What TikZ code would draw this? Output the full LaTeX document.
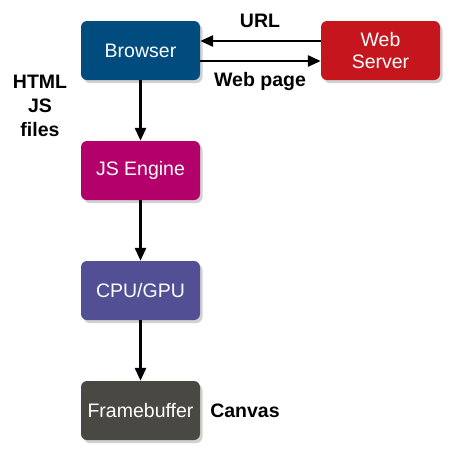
\documentclass[tikz,border=0pt]{standalone}
\usepackage{fontspec}
\setmainfont{Liberation Sans}
\usetikzlibrary{arrows.meta,shadows}
\definecolor{cBrowser}{HTML}{004C7F}
\definecolor{cServer}{HTML}{C4161C}
\definecolor{cJS}{HTML}{B3006B}
\definecolor{cCPU}{HTML}{524F94}
\definecolor{cFrame}{HTML}{4A4843}
\tikzset{
  box/.style={rounded corners=6pt, minimum width=119pt, minimum height=59pt, inner sep=0pt,
    text=white, font=\fontsize{19.5}{22}\selectfont, align=center,
    drop shadow={shadow xshift=2.5pt, shadow yshift=-3pt, opacity=0.18, fill=black}},
  lbl/.style={font=\bfseries\fontsize{19.5}{24}\selectfont, align=center, inner sep=0pt},
  conn/.style={line width=2.8pt, -{Triangle[length=13pt,width=11pt]}}
}
\begin{document}
\begin{tikzpicture}[x=1pt,y=-1pt]
\useasboundingbox (0,0) rectangle (451,451);
\node[box, fill=cBrowser] (browser) at (140.5,50.5) {Browser};
\node[box, fill=cServer] (server) at (380.5,50.5) {Web\\Server};
\node[box, fill=cJS] (js) at (140.5,170.5) {JS Engine};
\node[box, fill=cCPU] (cpu) at (140.5,290.5) {CPU/GPU};
\node[box, fill=cFrame] (frame) at (140.5,410.5) {Framebuffer};
\draw[conn] (server.west |- 0,41) -- (browser.east |- 0,41);
\draw[conn] (browser.east |- 0,61) -- (server.west |- 0,61);
\draw[conn] (browser) -- (js);
\draw[conn] (js) -- (cpu);
\draw[conn] (cpu) -- (frame);
\node[lbl] (url) at (260,21) {URL};
\node[lbl] (wp) at (260,81) {Web page};
\node[lbl] (html) at (40,106) {HTML\\JS\\files};
\node[lbl] (canvas) at (245,411) {Canvas};
\end{tikzpicture}
\end{document}
